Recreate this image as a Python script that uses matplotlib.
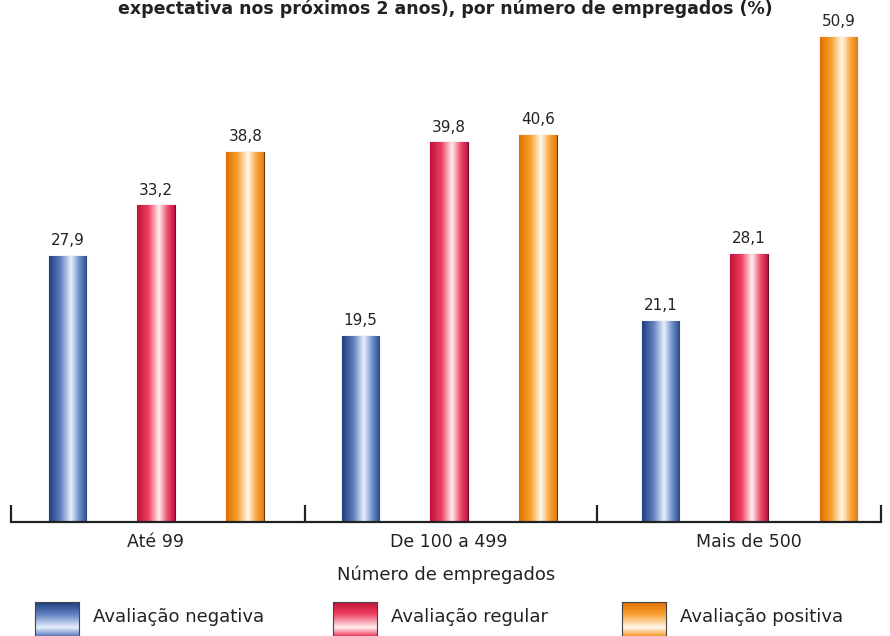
import matplotlib.pyplot as plt
import numpy as np
from matplotlib.colors import LinearSegmentedColormap

categories = ['Até 99', 'De 100 a 499', 'Mais de 500']
series = ['Avaliação negativa', 'Avaliação regular', 'Avaliação positiva']
negativa = [27.9, 19.5, 21.1]
regular = [33.2, 39.8, 28.1]
positiva = [38.8, 40.6, 50.9]
values = [negativa, regular, positiva]

# shading colours for the cylinder look: edge, mid, highlight
shades = [
    ['#1f3f7f', '#5f7fc0', '#e8f0ff', '#6f8fcc', '#2a4a8a'],
    ['#c0103a', '#ee4060', '#fff0f2', '#f05070', '#c01040'],
    ['#e07000', '#f8a030', '#fff8ec', '#f9a840', '#e07a10'],
]
edge_colors = ['#243a6a', '#701020', '#6a3a00']

fig = plt.figure(figsize=(8.9, 6.36), dpi=100)
ax = fig.add_axes([11 / 890, 114 / 636, 870 / 890, 515 / 636])

# group centres are not quite evenly spaced in the original
x = np.array([0.0, 1.01, 2.045])
offsets = [-0.305, 0.0, 0.308]
width = 0.13
grad = np.linspace(0, 1, 200).reshape(1, -1)

for i in range(3):
    cmap = LinearSegmentedColormap.from_list(
        's%d' % i, list(zip([0, 0.3, 0.58, 0.8, 1], shades[i])))
    bars = ax.bar(x + offsets[i], values[i], width, color=shades[i][1],
                  edgecolor=edge_colors[i], linewidth=0.8, zorder=2)
    for b, v in zip(bars, values[i]):
        bx, by = b.get_x(), b.get_y()
        img = ax.imshow(grad, cmap=cmap, aspect='auto', zorder=2.5,
                        extent=[bx, bx + b.get_width(), by, by + b.get_height()])
        img.set_clip_path(b)
        ax.text(bx + b.get_width() / 2, v + 0.8, f'{v:.1f}'.replace('.', ','),
                ha='center', va='bottom', fontsize=11, color='#222222')

ax.set_xlim(-0.5, 2.5)
ax.set_ylim(0, 54)
ax.set_yticks([])
for s in ['left', 'right', 'top']:
    ax.spines[s].set_visible(False)
ax.spines['bottom'].set_linewidth(1.6)
ax.spines['bottom'].set_color('#222222')
ax.set_xticks(x)
ax.set_xticklabels(categories, fontsize=12.5, color='#222222')
ax.tick_params(axis='x', which='major', length=0, pad=8)
ax.set_xticks([-0.5, 0.514, 1.521, 2.5], minor=True)
ax.tick_params(axis='x', which='minor', direction='in', length=12, width=1.6,
               color='#222222')
ax.set_xlabel('Número de empregados', fontsize=13, color='#222222', labelpad=10)

fig.text(0.5, 1.0,
         'expectativa nos próximos 2 anos), por número de empregados (%)',
         ha='center', va='top', fontsize=12.5, fontweight='bold', color='#222222')

# legend swatches with vertical shading
leg_x = [35, 333, 622]
vgrad = np.linspace(0, 1, 100).reshape(-1, 1)
for i in range(3):
    cmap = LinearSegmentedColormap.from_list(
        'l%d' % i, list(zip([0, 0.35, 0.75, 1], [shades[i][0], shades[i][1], shades[i][2], shades[i][1]])))
    lax = fig.add_axes([leg_x[i] / 890, 0, 44 / 890, 34 / 636])
    lax.imshow(vgrad, cmap=cmap, aspect='auto', extent=[0, 1, 0, 1])
    for s in lax.spines.values():
        s.set_color('#444444')
        s.set_linewidth(0.8)
    lax.set_xticks([])
    lax.set_yticks([])
    fig.text((leg_x[i] + 58) / 890, 1 - 617 / 636, series[i], ha='left',
             va='center', fontsize=13, color='#222222')

fig.savefig('out.png', dpi=100)
